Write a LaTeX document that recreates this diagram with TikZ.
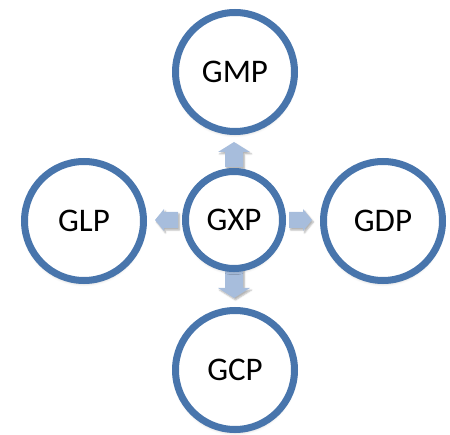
\documentclass[tikz,border=0pt]{standalone}
\usepackage{fontspec}
\setmainfont{Carlito}
\usetikzlibrary{shadows.blur}
\definecolor{ringblue}{RGB}{72,117,172}
\definecolor{arrowblue}{RGB}{167,189,220}
\tikzset{
  ring/.style={circle, draw=ringblue, line width=7pt, fill=white, inner sep=0pt,
    font=\fontsize{33}{38}\selectfont, text=black,
    blur shadow={shadow xshift=0pt, shadow yshift=-3pt, shadow blur radius=3pt, shadow opacity=25}},
  bigring/.style={ring, minimum size=119pt},
  smallring/.style={ring, minimum size=97pt},
  blockarrow/.style={fill=arrowblue,
    blur shadow={shadow xshift=1.5pt, shadow yshift=-2pt, shadow blur radius=1.5pt, shadow opacity=30}}
}
\begin{document}
\begin{tikzpicture}[x=1pt,y=-1pt]
  \useasboundingbox (0,0) rectangle (450,435);
  % block arrows pointing outward from the centre
  \fill[blockarrow] (225,167) -- (225,152) -- (218,152) -- (234,142) -- (250,152)
    -- (243,152) -- (243,167) -- cycle;
  \fill[blockarrow] (225,269) -- (225,288) -- (218,288) -- (234,298) -- (250,288)
    -- (243,288) -- (243,269) -- cycle;
  \fill[blockarrow] (178,212) -- (164,212) -- (164,209) -- (155,220) -- (164,231)
    -- (164,228) -- (178,228) -- cycle;
  \fill[blockarrow] (289,212) -- (303,212) -- (303,209) -- (312,220) -- (303,231)
    -- (303,228) -- (289,228) -- cycle;
  % circles
  \node[smallring] (gxp) at (234,220) {GXP};
  \node[bigring] (gmp) at (235,72) {GMP};
  \node[bigring] (glp) at (84,221) {GLP};
  \node[bigring] (gdp) at (383,221) {GDP};
  \node[bigring] (gcp) at (235,370) {GCP};
\end{tikzpicture}
\end{document}
